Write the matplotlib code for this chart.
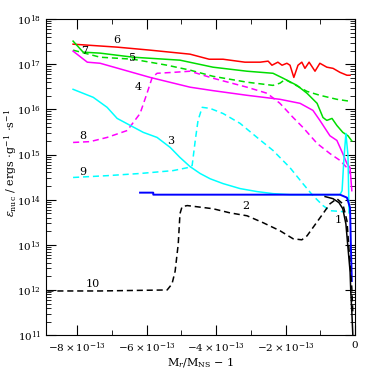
"""Nuclear energy generation rate vs mass coordinate near the NS surface."""
import matplotlib
matplotlib.use("Agg")
import matplotlib.pyplot as plt
from matplotlib.ticker import FixedLocator, MultipleLocator, LogLocator, NullFormatter

plt.rcParams["font.family"] = ["DejaVu Serif"]
plt.rcParams["mathtext.fontset"] = "dejavuserif"

# x in units of 1e-13 (M_r/M_NS - 1), y in erg/g/s
x6 = [-8.12, -6.85, -5.90, -4.75, -4.20, -3.80, -3.17, -2.73, -2.50, -2.39, -2.22, -2.10,
      -1.96, -1.87, -1.76, -1.64, -1.53, -1.44, -1.32, -1.15, -1.01, -0.81, -0.63, -0.43,
      -0.23, -0.14]
y6 = [2.78e17, 2.39e17, 2.05e17, 1.67e17, 1.29e17, 1.29e17, 1.11e17, 1.11e17, 1.17e17,
      9.5e16, 1.11e17, 9.5e16, 1.05e17, 9.5e16, 5.1e16, 9.5e16, 1.11e17, 8.1e16, 1.11e17,
      7.0e16, 1.05e17, 8.6e16, 8.1e16, 6.6e16, 5.7e16, 5.7e16]

x5 = [-8.12, -7.83, -7.34, -6.39, -5.04, -4.09, -3.11, -2.36, -2.07, -1.67, -1.38, -1.09,
      -0.92, -0.81, -0.66, -0.52, -0.35, -0.20, -0.09]
y5 = [3.25e17, 1.85e17, 1.76e17, 1.43e17, 1.23e17, 8.6e16, 7.0e16, 6.3e16, 4.9e16, 3.4e16,
      2.27e16, 1.36e16, 6.6e15, 5.7e15, 6.3e15, 4.4e15, 3.1e15, 2.6e15, 2.0e15]

x7 = [-8.12, -7.34, -6.39, -5.41, -4.75, -4.09, -3.11, -2.36, -2.16, -2.01, -1.38, -1.01,
      -0.52, -0.14]
y7 = [2.05e17, 1.43e17, 1.29e17, 9.5e16, 7.4e16, 5.4e16, 4.0e16, 3.4e16, 3.8e16, 4.6e16,
      2.5e16, 2.05e16, 1.67e16, 1.51e16]

x4 = [-8.12, -7.71, -7.34, -5.90, -4.75, -4.09, -3.11, -2.16, -1.58, -1.21, -1.01, -0.72,
      -0.52, -0.35, -0.23, -0.14, -0.09]
y4 = [1.95e17, 1.11e17, 1.05e17, 5.1e16, 3.1e16, 2.6e16, 2.05e16, 1.67e16, 1.36e16, 9.5e15,
      5.7e15, 2.6e15, 2.05e15, 1.05e15, 6.3e14, 5.1e14, 1.58e14]

x8 = [-8.12, -7.63, -7.14, -6.56, -6.19, -5.99, -5.84, -5.70, -5.24, -4.75, -4.09, -3.11,
      -2.53, -2.16, -1.78, -1.50, -1.09, -0.72, -0.43, -0.23, -0.14]
y8 = [1.85e15, 1.93e15, 2.39e15, 3.4e15, 8.1e15, 2.27e16, 5.1e16, 6.3e16, 6.6e16, 7.0e16,
      4.9e16, 3.1e16, 2.27e16, 1.36e16, 6.6e15, 4.0e15, 1.76e15, 1.05e15, 7.4e14, 5.1e14,
      3.8e14]

x3 = [-8.12, -7.54, -7.14, -6.85, -6.47, -6.10, -5.70, -5.32, -5.04, -4.75, -4.46, -4.17,
      -3.80, -3.31, -2.82, -2.36, -1.87, -0.43, -0.37, -0.32, -0.26, -0.20, -0.17]
y3 = [2.78e16, 1.85e16, 1.11e16, 6.3e15, 4.4e15, 3.1e15, 2.39e15, 1.43e15, 8.6e14, 5.4e14,
      3.8e14, 2.9e14, 2.27e14, 1.76e14, 1.51e14, 1.36e14, 1.29e14, 1.29e14, 1.58e14, 7.4e14,
      2.93e15, 9.5e14, 5.1e13]

x9 = [-8.12, -7.14, -6.19, -5.24, -4.83, -4.69, -4.60, -4.52, -4.40, -4.17, -3.80, -3.31,
      -2.82, -2.36, -1.87, -1.50, -1.21, -0.92, -0.72, -0.29]
y9 = [3.1e14, 3.4e14, 3.8e14, 4.4e14, 5.1e14, 5.7e14, 2.05e15, 5.7e15, 1.11e16, 1.05e16,
      8.1e15, 4.9e15, 2.39e15, 1.23e15, 5.1e14, 2.27e14, 1.23e14, 7.4e13, 5.7e13, 5.4e13]

x2 = [-6.19, -5.81, -5.81, -4.46, -0.43, -0.23, -0.14, -0.12, -0.09]
y2 = [1.43e14, 1.43e14, 1.29e14, 1.29e14, 1.29e14, 1.11e14, 6.6e13, 1.23e13, 1.58e12]

x1 = [-0.86, -0.63, -0.46, -0.35, -0.26, -0.20, -0.14, -0.12, -0.09, -0.06]
y1 = [1.17e14, 1.05e14, 8.6e13, 6.3e13, 2.9e13, 8.6e12, 2.6e12, 9.5e11, 3.4e11, 1.0e11]

x10 = [-8.86, -7.34, -5.41, -5.27, -5.18, -5.09, -5.04, -4.98, -4.83, -4.09, -3.60, -3.11,
       -2.65, -2.16, -1.78, -1.53, -1.38, -1.21, -0.92, -0.72, -0.52, -0.35, -0.23, -0.14,
       -0.09, -0.06]
y10 = [9.5e11, 9.5e11, 1.0e12, 1.36e12, 2.6e12, 1.05e13, 4.9e13, 7.0e13, 7.4e13, 6.3e13,
       5.1e13, 4.4e13, 3.1e13, 2.05e13, 1.36e13, 1.29e13, 1.58e13, 2.4e13, 4.9e13, 8.1e13,
       1.05e14, 8.1e13, 3.4e13, 3.8e12, 1.1e12, 3.0e11]

labels = ["6", "7", "5", "4", "8", "3", "9", "2", "1", "10"]
label_x = [-6.85, -7.8, -6.42, -6.24, -7.83, -5.32, -7.83, -3.14, -0.49, -7.54]
label_y = [3.4e17, 2.0e17, 1.36e17, 3.2e16, 2.6e15, 1.95e15, 4.0e14, 7.4e13, 3.6e13, 1.36e12]

xticks = [-8, -6, -4, -2, 0]
xticklabels = [r"$-8\times10^{-13}$", r"$-6\times10^{-13}$", r"$-4\times10^{-13}$",
               r"$-2\times10^{-13}$", "0"]

GREEN = "#00dd00"
dash = (0, (4, 2.5))

fig = plt.figure(figsize=(3.74, 3.74), dpi=100)
ax = fig.add_axes([0.123, 0.104, 0.826, 0.845])

lw = 1.1
ax.plot(x6, y6, color="red", lw=lw)
ax.plot(x5, y5, color=GREEN, lw=lw)
ax.plot(x7, y7, color=GREEN, lw=lw, ls=dash)
ax.plot(x4, y4, color="magenta", lw=lw)
ax.plot(x8, y8, color="magenta", lw=lw, ls=dash)
ax.plot(x3, y3, color="cyan", lw=lw)
ax.plot(x9, y9, color="cyan", lw=lw, ls=dash)
ax.plot(x2, y2, color="blue", lw=1.4)
ax.plot(x1, y1, color="black", lw=lw)
ax.plot(x10, y10, color="black", lw=lw, ls=dash)

for t, lx, ly in zip(labels, label_x, label_y):
    ax.text(lx, ly, t, fontsize=8, ha="center", va="center")

ax.set_yscale("log")
ax.set_xlim(-8.9, 0)
ax.set_ylim(1e11, 1e18)

ax.xaxis.set_major_locator(FixedLocator(xticks))
ax.set_xticklabels(xticklabels)
ax.xaxis.set_minor_locator(MultipleLocator(1))
ax.yaxis.set_major_locator(LogLocator(base=10, numticks=20))
ax.yaxis.set_minor_locator(LogLocator(base=10, subs=range(2, 10), numticks=100))
ax.yaxis.set_minor_formatter(NullFormatter())

ax.tick_params(which="both", direction="in", top=True, right=True, labelsize=7.5)
ax.tick_params(which="major", length=7)
ax.tick_params(which="minor", length=3.5)
ax.tick_params(axis="x", pad=4)

fig.text(0.536, 0.030, r"M$_r$/M$_{\rm NS}$ $-$ 1", fontsize=8, ha="center", va="center")
fig.text(0.028, 0.564, r"$\epsilon_{\rm nuc}$ / ergs $\cdot$g$^{-1}$ $\cdot$s$^{-1}$",
         fontsize=8, rotation=90, ha="center", va="center")

fig.savefig("out.png", dpi=100)
